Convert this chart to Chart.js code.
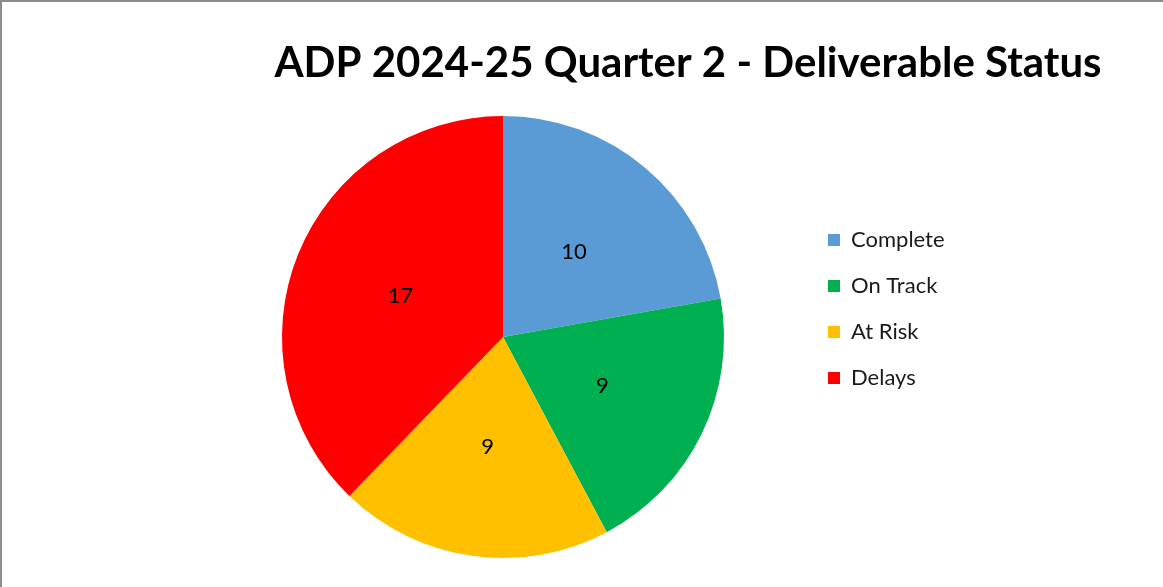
<!DOCTYPE html>
<html>
<head>
<meta charset="utf-8">
<script src="https://cdn.jsdelivr.net/npm/chart.js@4.4.1/dist/chart.umd.min.js"></script>
<style>
    html, body { margin: 0; padding: 0; background: #fff; overflow: hidden; }
    #frame { position: absolute; left: 0; top: 0; width: 1163px; height: 587px; box-sizing: border-box;
             border-top: 2px solid #8c8c8c; border-left: 2px solid #8c8c8c; pointer-events: none; }
    #wrap { position: absolute; left: 0; top: 0; width: 1174px; height: 587px; }
</style>
</head>
<body>
<div id="wrap"><canvas id="statusChart"></canvas></div>
<div id="frame"></div>
<script>
const chartTitle = 'ADP 2024-25 Quarter 2 - Deliverable Status';
const statuses = ['Complete', 'On Track', 'At Risk', 'Delays'];
const deliverables = [10, 9, 9, 17];
const sliceColors = ['#5B9BD5', '#00B050', '#FFC000', '#FF0000'];

// Draw the count in the middle of each slice
const sliceLabels = {
    id: 'sliceLabels',
    afterDatasetsDraw(chart) {
        const { ctx } = chart;
        const meta = chart.getDatasetMeta(0);
        ctx.save();
        ctx.font = '22px Lato';
        ctx.fillStyle = '#000';
        ctx.textAlign = 'center';
        ctx.textBaseline = 'middle';
        meta.data.forEach((arc, i) => {
            const pos = arc.tooltipPosition();
            ctx.fillText(String(chart.data.datasets[0].data[i]), pos.x, pos.y);
        });
        ctx.restore();
    }
};

// Widen the legend box so the pie sits left of centre like the original
const legendWidth = {
    id: 'legendWidth',
    beforeInit(chart) {
        const fit = chart.legend.fit;
        chart.legend.fit = function () {
            fit.call(this);
            this.width = 370;
        };
    }
};

new Chart(document.getElementById('statusChart'), {
    type: 'pie',
    data: {
        labels: statuses,
        datasets: [{
            data: deliverables,
            backgroundColor: sliceColors,
            borderWidth: 0
        }]
    },
    options: {
        responsive: true,
        maintainAspectRatio: false,
        animation: false,
        layout: { padding: { left: 202, right: 0, top: 0, bottom: 29 } },
        plugins: {
            title: {
                display: true,
                text: chartTitle,
                color: '#000',
                font: { family: 'Lato', size: 42, weight: 'bold', lineHeight: 1.2 },
                padding: { top: 38, bottom: 27.6 }
            },
            legend: {
                position: 'right',
                align: 'start',
                fullSize: false,
                title: { display: true, text: '', font: { size: 12, lineHeight: 1.2 }, padding: { top: 74.6, bottom: 0 } },
                labels: {
                    boxWidth: 12,
                    boxHeight: 12,
                    padding: 24,
                    color: '#1a1a1a',
                    font: { family: 'Lato', size: 22 }
                }
            },
            tooltip: { enabled: false }
        }
    },
    plugins: [sliceLabels, legendWidth]
});
</script>
</body>
</html>
